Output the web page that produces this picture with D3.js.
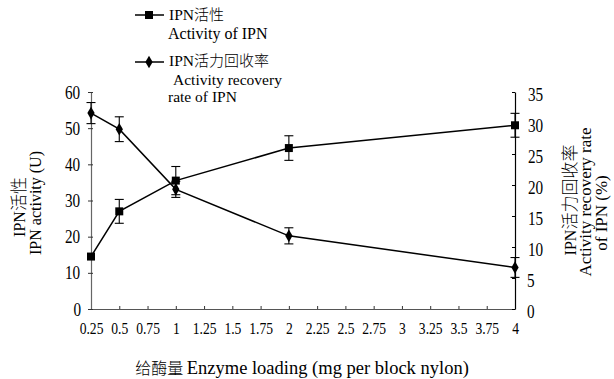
<!DOCTYPE html>
<html><head><meta charset="utf-8">
<script src="https://cdn.jsdelivr.net/npm/d3@7/dist/d3.min.js"></script>
<style>
body{margin:0;background:#fff;}
svg text{font-family:"Liberation Serif","Noto Sans CJK SC",serif;fill:#000;}
.cond{transform-box:fill-box;transform-origin:center;transform:scaleX(0.8);}
.cjk{font-family:"Noto Sans CJK SC",sans-serif;font-weight:300;}
</style></head>
<body><svg id="c" width="614" height="379"></svg>
<script>
const loading = [0.25, 0.5, 1, 2, 4];
const activity = [14.5, 27, 35.5, 44.5, 50.8];
const activityErr = [0, 3.3, 3.9, 3.4, 3.3];
const recovery = [31.6, 29.0, 19.3, 11.8, 6.7];
const recoveryErr = [1.7, 2.0, 1.3, 1.3, 1.6];
const xTicks = [0.25,0.5,0.75,1,1.25,1.5,1.75,2,2.25,2.5,2.75,3,3.25,3.5,3.75,4];
const leftTicks = [0,10,20,30,40,50,60];
const rightTicks = [0,5,10,15,20,25,30,35];

const svg = d3.select("#c");
const x = d3.scaleLinear().domain([0.25,4]).range([91,515]);
const yL = d3.scaleLinear().domain([0,60]).range([309,92]);
const yR = d3.scaleLinear().domain([0,35]).range([309,92]);

// bottom axis
const gx = svg.append("g").attr("transform","translate(0,309)")
  .call(d3.axisBottom(x).tickValues(xTicks).tickSize(0).tickPadding(14).tickFormat(d=>String(d)));
gx.select(".domain").attr("stroke","#555").attr("stroke-width",1.2);
gx.selectAll(".tick line").remove();
gx.selectAll(".tick").append("line").attr("y1",0).attr("y2",-3).attr("stroke","#333");
gx.selectAll(".tick text").attr("font-size",17).attr("class","cond").attr("dy","0.32em").attr("y",20);

// left axis
const gl = svg.append("g").attr("transform","translate(91,0)")
  .call(d3.axisLeft(yL).tickValues(leftTicks).tickSizeOuter(0).tickSizeInner(3).tickPadding(9));
gl.select(".domain").attr("stroke","#666").attr("stroke-width",1.2);
gl.selectAll(".tick line").attr("x2",-3).attr("x1",2).attr("stroke","#333");
gl.selectAll(".tick text").attr("font-size",19).attr("class","cond").attr("x",-9);

// right axis
const gr = svg.append("g").attr("transform","translate(515,0)")
  .call(d3.axisRight(yR).tickValues(rightTicks).tickSizeOuter(0).tickSizeInner(3).tickPadding(11));
gr.select(".domain").attr("stroke","#000").attr("stroke-width",1.2);
gr.selectAll(".tick line").attr("x2",-3).attr("stroke","#000");
gr.selectAll(".tick text").attr("font-size",19).attr("class","cond").attr("x",11).attr("dy","0.45em");

// lines
const lineA = d3.line().x((d,i)=>x(loading[i])).y(d=>yL(d));
const lineR = d3.line().x((d,i)=>x(loading[i])).y(d=>yR(d));
svg.append("path").attr("d",lineA(activity)).attr("fill","none").attr("stroke","#000").attr("stroke-width",1.5);
svg.append("path").attr("d",lineR(recovery)).attr("fill","none").attr("stroke","#000").attr("stroke-width",1.5);

// error bars
function errBars(vals, errs, y){
  vals.forEach((v,i)=>{
    if(!errs[i]) return;
    const cx = x(loading[i]);
    const g = svg.append("g").attr("stroke","#000").attr("stroke-width",1.1);
    g.append("line").attr("x1",cx).attr("x2",cx).attr("y1",y(v-errs[i])).attr("y2",y(v+errs[i]));
    g.append("line").attr("x1",cx-4.5).attr("x2",cx+4.5).attr("y1",y(v-errs[i])).attr("y2",y(v-errs[i]));
    g.append("line").attr("x1",cx-4.5).attr("x2",cx+4.5).attr("y1",y(v+errs[i])).attr("y2",y(v+errs[i]));
  });
}
errBars(activity, activityErr, yL);
errBars(recovery, recoveryErr, yR);

// markers
const sq = d3.symbol().type(d3.symbolSquare).size(64);
const dm = d3.symbol().type(d3.symbolDiamond).size(46);
activity.forEach((v,i)=>svg.append("path").attr("d",sq()).attr("transform",`translate(${x(loading[i])},${yL(v)})`).attr("fill","#000"));
recovery.forEach((v,i)=>svg.append("path").attr("d",dm()).attr("transform",`translate(${x(loading[i])},${yR(v)})`).attr("fill","#000"));

// helper for mixed text
function mixed(sel, latin, cjk, latinSize, cjkSize){
  sel.append("tspan").attr("font-size",latinSize).text(latin);
  sel.append("tspan").attr("class","cjk").attr("font-size",cjkSize).text(cjk);
  return sel;
}

// legend
const lg = svg.append("g");
lg.append("line").attr("x1",135).attr("x2",164).attr("y1",15).attr("y2",15).attr("stroke","#000").attr("stroke-width",1.5);
lg.append("path").attr("d",sq()).attr("transform","translate(149,15)");
mixed(lg.append("text").attr("x",169).attr("y",20), "IPN", "活性", 15.5, 15);
lg.append("text").attr("x",168).attr("y",39).attr("font-size",16).text("Activity of IPN");
lg.append("line").attr("x1",135).attr("x2",164).attr("y1",62).attr("y2",62).attr("stroke","#000").attr("stroke-width",1.5);
lg.append("path").attr("d",dm()).attr("transform","translate(149,62)");
mixed(lg.append("text").attr("x",169).attr("y",66), "IPN", "活力回收率", 15.5, 15);
lg.append("text").attr("x",173).attr("y",85).attr("font-size",15.5).text("Activity recovery");
lg.append("text").attr("x",168).attr("y",102).attr("font-size",15.5).text("rate of IPN");

// axis titles
mixed(svg.append("text").attr("transform","translate(25,207) rotate(-90)").attr("text-anchor","middle"), "IPN", "活性", 16, 17);
svg.append("text").attr("transform","translate(41,203) rotate(-90)").attr("text-anchor","middle").attr("font-size",16).text("IPN activity (U)");
mixed(svg.append("text").attr("transform","translate(576,200) rotate(-90)").attr("text-anchor","middle"), "IPN", "活力回收率", 16, 17);
svg.append("text").attr("transform","translate(591,202) rotate(-90)").attr("text-anchor","middle").attr("font-size",17).text("Activity recovery rate");
svg.append("text").attr("transform","translate(607,213) rotate(-90)").attr("text-anchor","middle").attr("font-size",17).text("of IPN (%)");
const xt = svg.append("text").attr("x",302).attr("y",374).attr("text-anchor","middle");
xt.append("tspan").attr("class","cjk").attr("font-size",16).text("给酶量 ");
xt.append("tspan").attr("font-size",18.5).text("Enzyme loading (mg per block nylon)");
</script></body></html>
